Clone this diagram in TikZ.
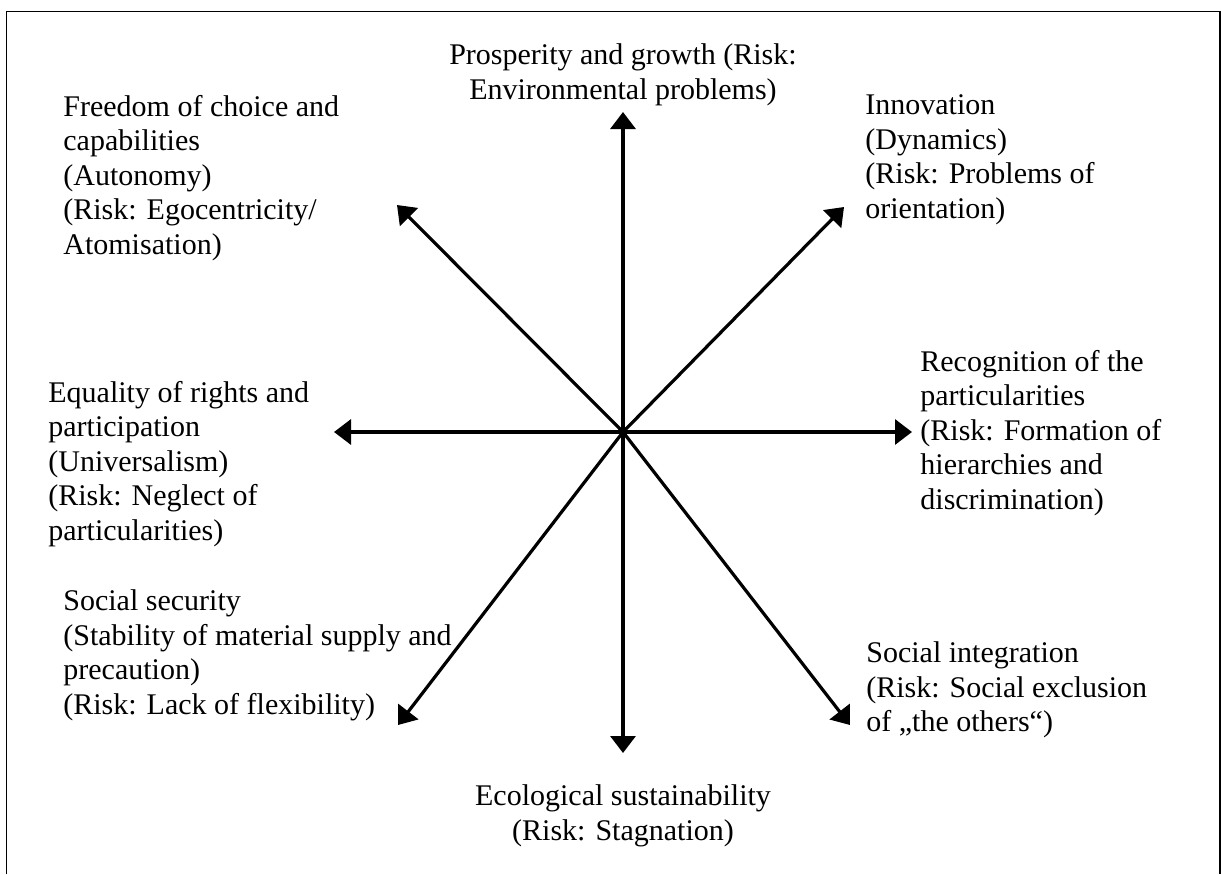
\documentclass[tikz,border=0pt]{standalone}
\usepackage{fontspec}
\setmainfont{Liberation Serif}
\usetikzlibrary{arrows.meta}

\begin{document}
\begin{tikzpicture}[x=0.5pt, y=-0.5pt,
    spoke/.style={line width=1.6pt, -{Triangle[length=8.5pt,width=12.5pt]}},
    goal/.style={inner sep=0pt, font=\fontsize{15pt}{17.25pt}\selectfont}]
  \useasboundingbox (0,0) rectangle (1221,874);
  \draw[line width=0.7pt] (6.5,874) -- (6.5,11.5) -- (1220,11.5) -- (1220,874);
  % centre and the tips of the eight arrows
  \coordinate (c) at (623,432);
  \coordinate (n) at (623,112);
  \coordinate (s) at (623,753);
  \coordinate (w) at (334,432);
  \coordinate (e) at (912,432);
  \coordinate (nw) at (397,205);
  \coordinate (ne) at (844,207);
  \coordinate (sw) at (398,725);
  \coordinate (se) at (850,725);
  \foreach \tip in {n,s,w,e,nw,ne,sw,se}
    \draw[spoke] (c) -- (\tip);
  % labels
  \node[goal, anchor=north, align=center] (growth) at (623,43.5)
    {Prosperity and growth (Risk:\\Environmental problems)};
  \node[goal, anchor=north west, align=left] (freedom) at (63,94.5)
    {Freedom of choice and\\capabilities\\(Autonomy)\\(Risk: Egocentricity/\\Atomisation)};
  \node[goal, anchor=north west, align=left] (innovation) at (865,94.5)
    {Innovation\\(Dynamics)\\(Risk: Problems of\\orientation)};
  \node[goal, anchor=north west, align=left] (recognition) at (920,349.5)
    {Recognition of the\\particularities\\(Risk: Formation of\\hierarchies and\\discrimination)};
  \node[goal, anchor=north west, align=left] (equality) at (48,380.5)
    {Equality of rights and\\participation\\(Universalism)\\(Risk: Neglect of\\particularities)};
  \node[goal, anchor=north west, align=left] (security) at (63,589.5)
    {Social security\\(Stability of material supply and\\precaution)\\(Risk: Lack of flexibility)};
  \node[goal, anchor=north west, align=left] (integration) at (866,641.5)
    {Social integration\\(Risk: Social exclusion\\of „the others“)};
  \node[goal, anchor=north, align=center] (ecology) at (623,784.5)
    {Ecological sustainability\\(Risk: Stagnation)};
\end{tikzpicture}
\end{document}
